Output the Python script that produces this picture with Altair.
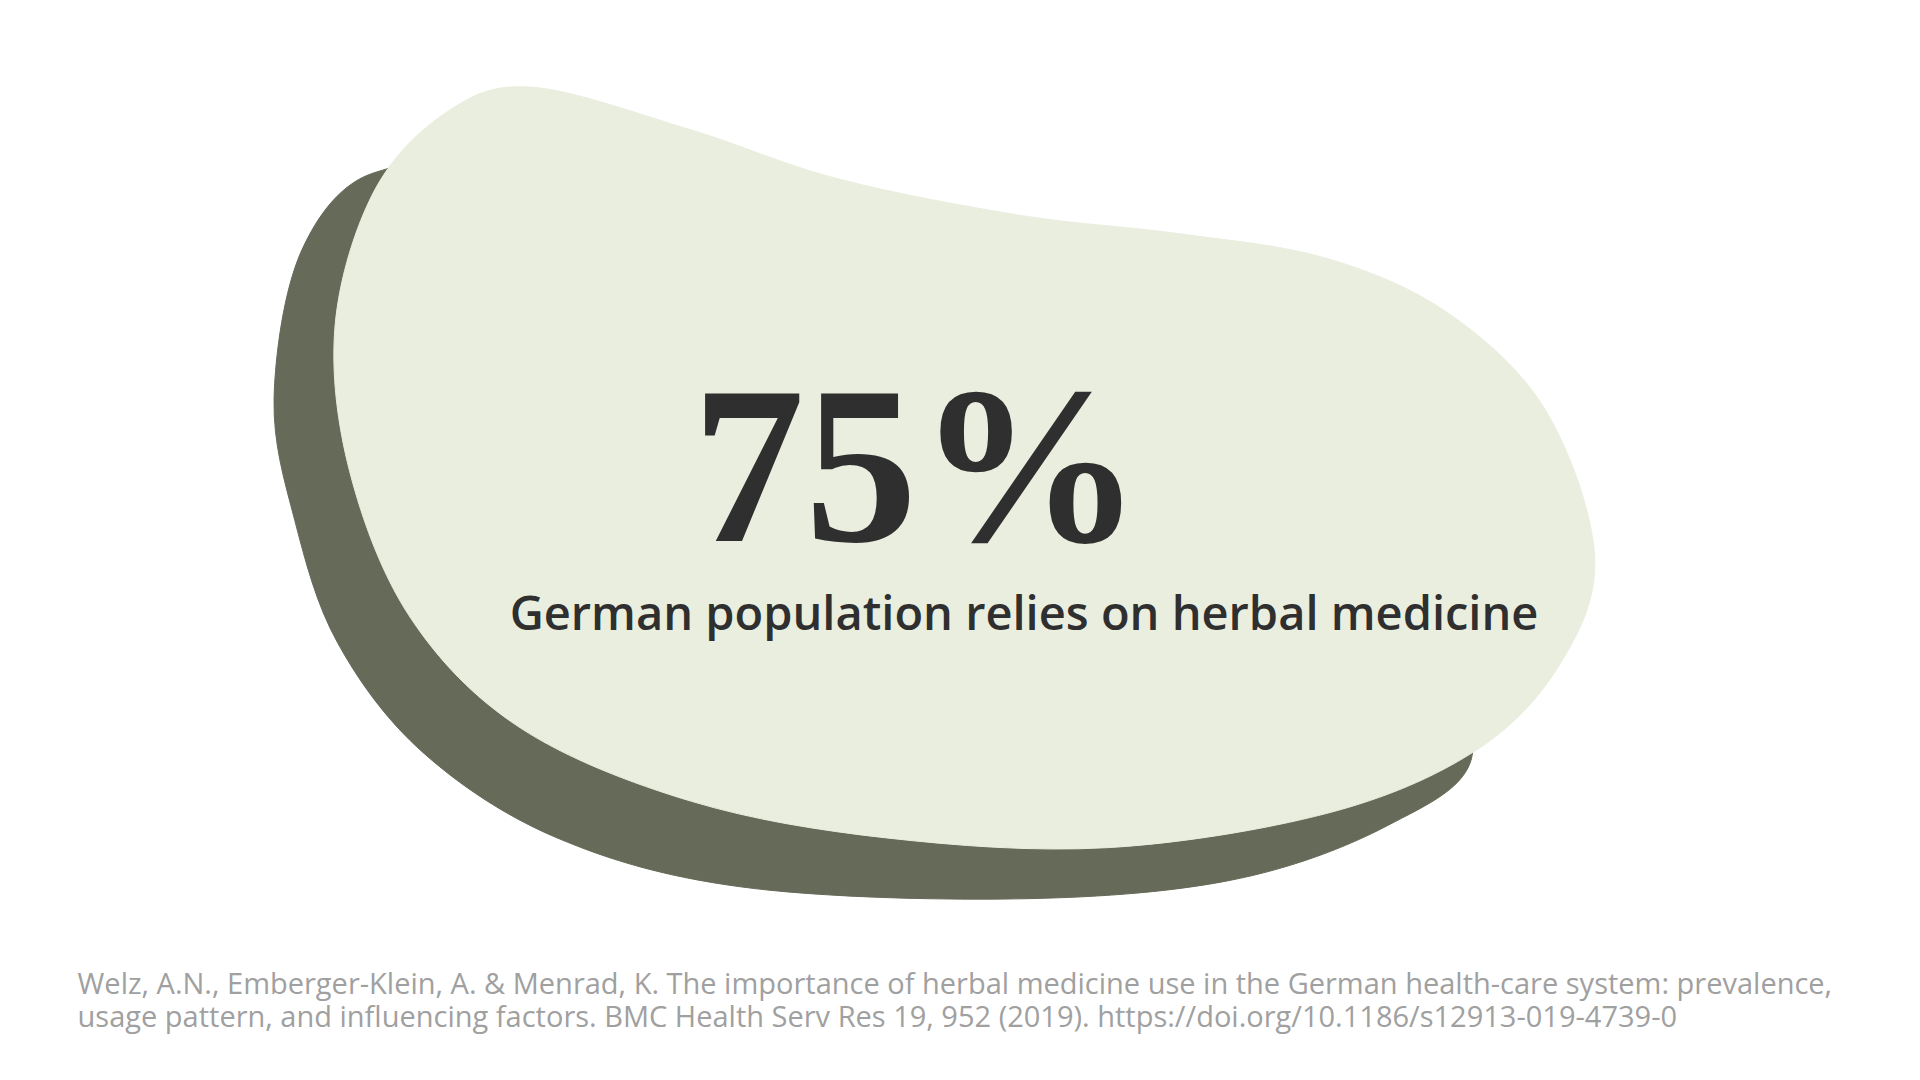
import altair as alt
import pandas as pd

# blob outlines, in reference pixel coordinates (y down)
front_x = [430, 560, 680, 830, 960, 1080, 1180, 1260, 1300, 1270, 1200, 1080, 900, 720, 560, 420, 330, 280, 268, 300, 360]
front_y = [65, 100, 140, 170, 185, 205, 250, 330, 450, 540, 610, 660, 688, 680, 650, 590, 500, 380, 260, 150, 85]
back_x = [300, 240, 218, 235, 270, 340, 450, 600, 820, 1000, 1130, 1200, 1150, 700, 400]
back_y = [135, 200, 320, 420, 520, 610, 680, 720, 730, 715, 670, 610, 500, 300, 150]

big_text = ["75%"]
sub_text = ["German population relies on herbal medicine"]
cite_lines = [
    "Welz, A.N., Emberger-Klein, A. & Menrad, K. The importance of herbal medicine use in the German health-care system: prevalence,",
    "usage pattern, and influencing factors. BMC Health Serv Res 19, 952 (2019). https://doi.org/10.1186/s12913-019-4739-0",
]

W, H = 1904, 1074
S = W / 1560
xs = alt.Scale(domain=[0, 1560], nice=False, zero=False)
ys = alt.Scale(domain=[0, H / S], nice=False, zero=False, reverse=True)


def blob(xv, yv, color):
    df = pd.DataFrame({"x": xv, "y": yv, "i": range(len(xv))})
    return alt.Chart(df).mark_line(
        fill=color, stroke=color, interpolate="cardinal-closed", strokeWidth=1
    ).encode(
        x=alt.X("x:Q", scale=xs, axis=None),
        y=alt.Y("y:Q", scale=ys, axis=None),
        order="i:Q",
    )


def label(df, size, font, weight, color, align):
    return alt.Chart(df).mark_text(
        fontSize=size, font=font, fontWeight=weight, color=color, align=align, baseline="alphabetic"
    ).encode(
        x=alt.X("x:Q", scale=xs, axis=None),
        y=alt.Y("y:Q", scale=ys, axis=None),
        text="t:N",
    )


back = blob(back_x, back_y, "#666a58")
front = blob(front_x, front_y, "#eaeedf")
t1 = label(pd.DataFrame({"x": [745], "y": [437], "t": big_text}), 225, "Liberation Serif", "bold", "#2f2f2f", "center")
t2 = label(pd.DataFrame({"x": [411], "y": [510], "t": sub_text}), 47, "Open Sans", 600, "#2f2f2f", "left")
t3 = label(pd.DataFrame({"x": [57, 57], "y": [808, 835], "t": cite_lines}), 29, "Open Sans", "normal", "#a0a0a0", "left")

chart = (back + front + t1 + t2 + t3).properties(
    width=W, height=H, padding=0, autosize=alt.AutoSizeParams(type="none")
).configure_view(stroke=None)

chart.save("out.html", embed_options={"renderer": "svg", "actions": False})
